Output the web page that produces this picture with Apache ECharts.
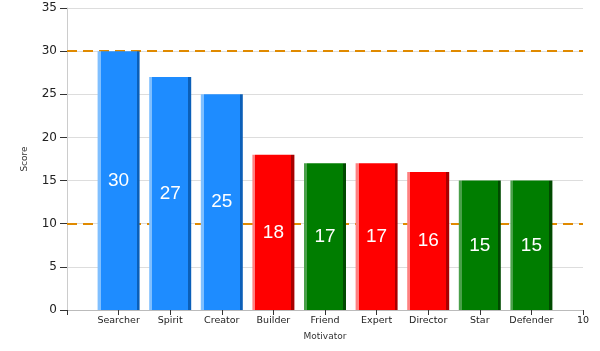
<!DOCTYPE html>
<html>
<head>
<meta charset="utf-8">
<script src="https://cdn.jsdelivr.net/npm/echarts@6/dist/echarts.min.js"></script>
<style>
  html, body { margin: 0; padding: 0; background: #fff; }
  #chart { width: 600px; height: 351px; }
</style>
</head>
<body>
<div id="chart"></div>
<script>
// data
const motivators = ['Searcher', 'Spirit', 'Creator', 'Builder', 'Friend', 'Expert', 'Director', 'Star', 'Defender'];
const scores = [30, 27, 25, 18, 17, 17, 16, 15, 15];
const groups = ['blue', 'blue', 'blue', 'red', 'green', 'red', 'red', 'green', 'green'];
const thresholds = [30, 10];

const palette = {
  blue: ['#7fbfff', '#1e8cff', '#0b5fb8'],
  red: ['#ff8080', '#ff0000', '#a80000'],
  green: ['#4aa04a', '#007d00', '#004a00']
};

function barFill(g) {
  const c = palette[g];
  return new echarts.graphic.LinearGradient(0, 0, 1, 0, [
    { offset: 0, color: c[0] },
    { offset: 0.07, color: c[0] },
    { offset: 0.07, color: c[1] },
    { offset: 0.93, color: c[1] },
    { offset: 0.93, color: c[2] },
    { offset: 1, color: c[2] }
  ]);
}

const chart = echarts.init(document.getElementById('chart'));
const font = 'DejaVu Sans, Verdana, sans-serif';

chart.setOption({
  animation: false,
  grid: { left: 67, right: 17, top: 8, bottom: 41 },
  xAxis: {
    type: 'value',
    min: 0,
    max: 10,
    interval: 1,
    name: 'Motivator',
    nameLocation: 'middle',
    nameGap: 22,
    nameTextStyle: { fontFamily: font, fontSize: 9, color: '#333' },
    axisLine: { lineStyle: { color: '#bbb' } },
    axisTick: { show: true, length: 5, lineStyle: { color: '#333' } },
    splitLine: { show: false },
    axisLabel: {
      fontFamily: font, fontSize: 9.5, color: '#222', margin: 6,
      formatter: v => v === 0 ? '' : (v <= motivators.length ? motivators[v - 1] : String(v))
    }
  },
  yAxis: {
    type: 'value',
    min: 0,
    max: 35,
    interval: 5,
    name: 'Score',
    nameLocation: 'middle',
    nameGap: 38,
    nameTextStyle: { fontFamily: font, fontSize: 9, color: '#333' },
    axisLine: { show: true, lineStyle: { color: '#ccc' } },
    axisTick: { show: true, length: 7, lineStyle: { color: '#333' } },
    splitLine: { lineStyle: { color: '#ddd' } },
    axisLabel: { fontFamily: font, fontSize: 12, color: '#222', margin: 10 }
  },
  series: [{
    type: 'bar',
    z: 3,
    barWidth: 42,
    data: scores.map((s, i) => ({
      value: [i + 1, s],
      itemStyle: { color: barFill(groups[i]) }
    })),
    label: {
      show: true,
      position: 'inside',
      color: '#fff',
      fontFamily: 'Liberation Sans, Arial, sans-serif',
      fontSize: 19,
      formatter: p => p.value[1]
    },
    // threshold lines sit behind the bars
    markLine: {
      z: 1,
      silent: true,
      symbol: 'none',
      label: { show: false },
      lineStyle: { color: '#e08a00', type: [10, 6], width: 2 },
      data: thresholds.map(t => ({ yAxis: t }))
    }
  }]
});
</script>
</body>
</html>
